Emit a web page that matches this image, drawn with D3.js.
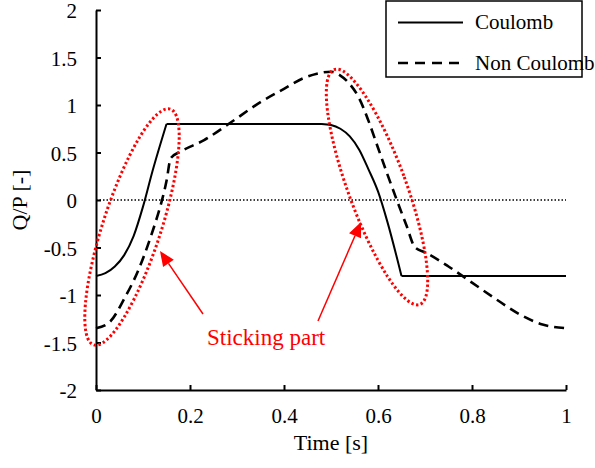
<!DOCTYPE html>
<html>
<head>
<meta charset="utf-8">
<script src="https://cdn.jsdelivr.net/npm/d3@7"></script>
<style>
    body { margin: 0; background: #fff; }
</style>
</head>
<body>
<div id="chart"></div>
<script>
/*
    qp-chart
 */

const coulombTime = [0, 0.02, 0.04, 0.06, 0.08, 0.1, 0.12, 0.15, 0.48, 0.5, 0.52, 0.54, 0.56, 0.58, 0.6, 0.62, 0.65, 1.0];
const coulombValues = [-0.8, -0.77, -0.7, -0.58, -0.38, -0.07, 0.3, 0.8, 0.8, 0.79, 0.75, 0.67, 0.53, 0.32, 0.09, -0.23, -0.8, -0.8];

const nonCoulombTime = [0, 0.03, 0.06, 0.09, 0.11, 0.13, 0.14, 0.15, 0.159, 0.18, 0.23, 0.285, 0.35, 0.4, 0.44, 0.47, 0.5, 0.52, 0.54, 0.56, 0.58, 0.6, 0.62, 0.64, 0.66, 0.679, 0.7, 0.75, 0.8, 0.85, 0.9, 0.95, 1.0];
const nonCoulombValues = [-1.35, -1.28, -1.04, -0.74, -0.48, -0.18, -0.01, 0.2, 0.44, 0.51, 0.63, 0.81, 1.03, 1.17, 1.28, 1.33, 1.35, 1.31, 1.22, 1.07, 0.83, 0.55, 0.27, 0.0, -0.26, -0.5, -0.55, -0.7, -0.87, -1.04, -1.2, -1.31, -1.35];

const xTicks = [0, 0.2, 0.4, 0.6, 0.8, 1];
const yTicks = [-2, -1.5, -1, -0.5, 0, 0.5, 1, 1.5, 2];

const seriesNames = ["Coulomb", "Non Coulomb"];
const annotationText = "Sticking part";

const FONT = "'Liberation Serif', serif";

class QpChart {
    constructor(div) {
        this._div = div;
        this._width = 595;
        this._height = 468;

        this._setupSvg();
        this._setupScales();
        this._drawZeroLine();
        this._drawSeries();
        this._drawAxes();
        this._drawAnnotation();
        this._drawLegend();
    }

    _setupSvg() {
        this._svg = d3
            .select(this._div)
            .append("svg")
            .attr("width", this._width)
            .attr("height", this._height)
            .style("display", "block")
            .style("font-family", FONT);
    }

    _setupScales() {
        this._x = d3.scaleLinear().domain([0, 1]).range([96, 566]);
        this._y = d3.scaleLinear().domain([-2, 2]).range([390, 10]);
    }

    _label(parent, text, size) {
        return parent
            .append("text")
            .attr("font-size", size)
            .style("font-family", FONT)
            .text(text);
    }

    _drawZeroLine() {
        this._svg
            .append("line")
            .attr("x1", this._x(0))
            .attr("x2", this._x(1))
            .attr("y1", this._y(0))
            .attr("y2", this._y(0))
            .attr("stroke", "#000")
            .attr("stroke-width", 1.5)
            .attr("stroke-dasharray", "1.5 2");
    }

    // split a series at its flat stretches so the corners stay sharp
    _pieces(points) {
        const pieces = [];
        let current = [points[0]];
        for (let i = 1; i < points.length; i++) {
            const flat = points[i][1] === points[i - 1][1];
            const prevFlat = current.length > 1 && current[current.length - 1][1] === current[current.length - 2][1];
            if (current.length > 1 && flat !== prevFlat) {
                pieces.push(current);
                current = [points[i - 1]];
            }
            current.push(points[i]);
        }
        pieces.push(current);
        return pieces;
    }

    _drawSeries() {
        const coulomb = coulombTime.map((t, i) => [t, coulombValues[i]]);
        const nonCoulomb = nonCoulombTime.map((t, i) => [t, nonCoulombValues[i]]);

        const lineSmooth = d3
            .line()
            .curve(d3.curveMonotoneX)
            .x(d => this._x(d[0]))
            .y(d => this._y(d[1]));

        this._svg
            .append("path")
            .attr("d", this._pieces(coulomb).map(p => lineSmooth(p)).join(""))
            .attr("fill", "none")
            .attr("stroke", "#000")
            .attr("stroke-width", 2);

        this._svg
            .append("path")
            .attr("d", lineSmooth(nonCoulomb))
            .attr("fill", "none")
            .attr("stroke", "#000")
            .attr("stroke-width", 2.6)
            .attr("stroke-dasharray", "10 6");
    }

    _drawAxes() {
        const fmt = d => String(d);

        const yAxis = this._svg
            .append("g")
            .attr("transform", `translate(${this._x(0)},0)`)
            .call(
                d3
                    .axisLeft(this._y)
                    .tickValues(yTicks)
                    .tickFormat(fmt)
                    .tickSizeInner(-5)
                    .tickSizeOuter(0)
                    .tickPadding(19)
            );

        const xAxis = this._svg
            .append("g")
            .attr("transform", `translate(0,${this._y(-2)})`)
            .call(
                d3
                    .axisBottom(this._x)
                    .tickValues(xTicks)
                    .tickFormat(fmt)
                    .tickSizeInner(-5)
                    .tickSizeOuter(0)
                    .tickPadding(18)
            );

        [xAxis, yAxis].forEach(axis => {
            axis.attr("font-size", 21).attr("font-family", null).style("font-family", FONT);
            axis.select(".domain").attr("stroke-width", 2);
            axis.selectAll(".tick line").attr("stroke-width", 2);
            axis.selectAll(".tick text").attr("fill", "#000").style("font-family", FONT);
        });
        yAxis.selectAll(".tick text").attr("dy", "0.36em");

        this._label(this._svg, "Time [s]", 22)
            .attr("x", 331)
            .attr("y", 450)
            .attr("text-anchor", "middle");

        this._label(this._svg, "Q/P [-]", 22)
            .attr("transform", "translate(27,200) rotate(-90)")
            .attr("text-anchor", "middle");
    }

    _drawAnnotation() {
        const red = "#ff0000";
        const ellipses = [
            { cx: 132, cy: 227, rx: 29, ry: 124, angle: 18 },
            { cx: 377, cy: 187, rx: 29, ry: 125, angle: -20 }
        ];
        this._svg
            .selectAll(".sticking")
            .data(ellipses)
            .join("ellipse")
            .attr("class", "sticking")
            .attr("transform", d => `translate(${d.cx},${d.cy}) rotate(${d.angle})`)
            .attr("rx", d => d.rx)
            .attr("ry", d => d.ry)
            .attr("fill", "none")
            .attr("stroke", red)
            .attr("stroke-width", 3)
            .attr("stroke-dasharray", "2.4 2.4");

        const arrows = [
            { x1: 203, y1: 314, x2: 160, y2: 251 },
            { x1: 318, y1: 321, x2: 361, y2: 222 }
        ];
        arrows.forEach(a => {
            const ang = Math.atan2(a.y2 - a.y1, a.x2 - a.x1);
            const len = 15;
            const half = 6.5;
            const bx = a.x2 - len * Math.cos(ang);
            const by = a.y2 - len * Math.sin(ang);
            this._svg
                .append("line")
                .attr("x1", a.x1)
                .attr("y1", a.y1)
                .attr("x2", bx)
                .attr("y2", by)
                .attr("stroke", red)
                .attr("stroke-width", 1.5);
            const pts = [
                [a.x2, a.y2],
                [bx + half * Math.sin(ang), by - half * Math.cos(ang)],
                [bx - half * Math.sin(ang), by + half * Math.cos(ang)]
            ];
            this._svg
                .append("polygon")
                .attr("points", pts.map(p => p.join(",")).join(" "))
                .attr("fill", red);
        });

        this._label(this._svg, annotationText, 23)
            .attr("x", 207)
            .attr("y", 345)
            .attr("fill", red);
    }

    _drawLegend() {
        const g = this._svg.append("g");
        g.append("rect")
            .attr("x", 386)
            .attr("y", 1)
            .attr("width", 196)
            .attr("height", 76)
            .attr("fill", "#fff")
            .attr("stroke", "#000")
            .attr("stroke-width", 1.5);

        const rows = [
            { name: seriesNames[0], y: 22.5, dash: null, width: 2 },
            { name: seriesNames[1], y: 63, dash: "10 7", width: 2.6 }
        ];
        rows.forEach(r => {
            g.append("line")
                .attr("x1", 398)
                .attr("x2", 463)
                .attr("y1", r.y)
                .attr("y2", r.y)
                .attr("stroke", "#000")
                .attr("stroke-width", r.width)
                .attr("stroke-dasharray", r.dash);
            this._label(g, r.name, 21)
                .attr("x", 475)
                .attr("y", r.y + 6.5);
        });
    }
}

new QpChart("#chart");
</script>
</body>
</html>
